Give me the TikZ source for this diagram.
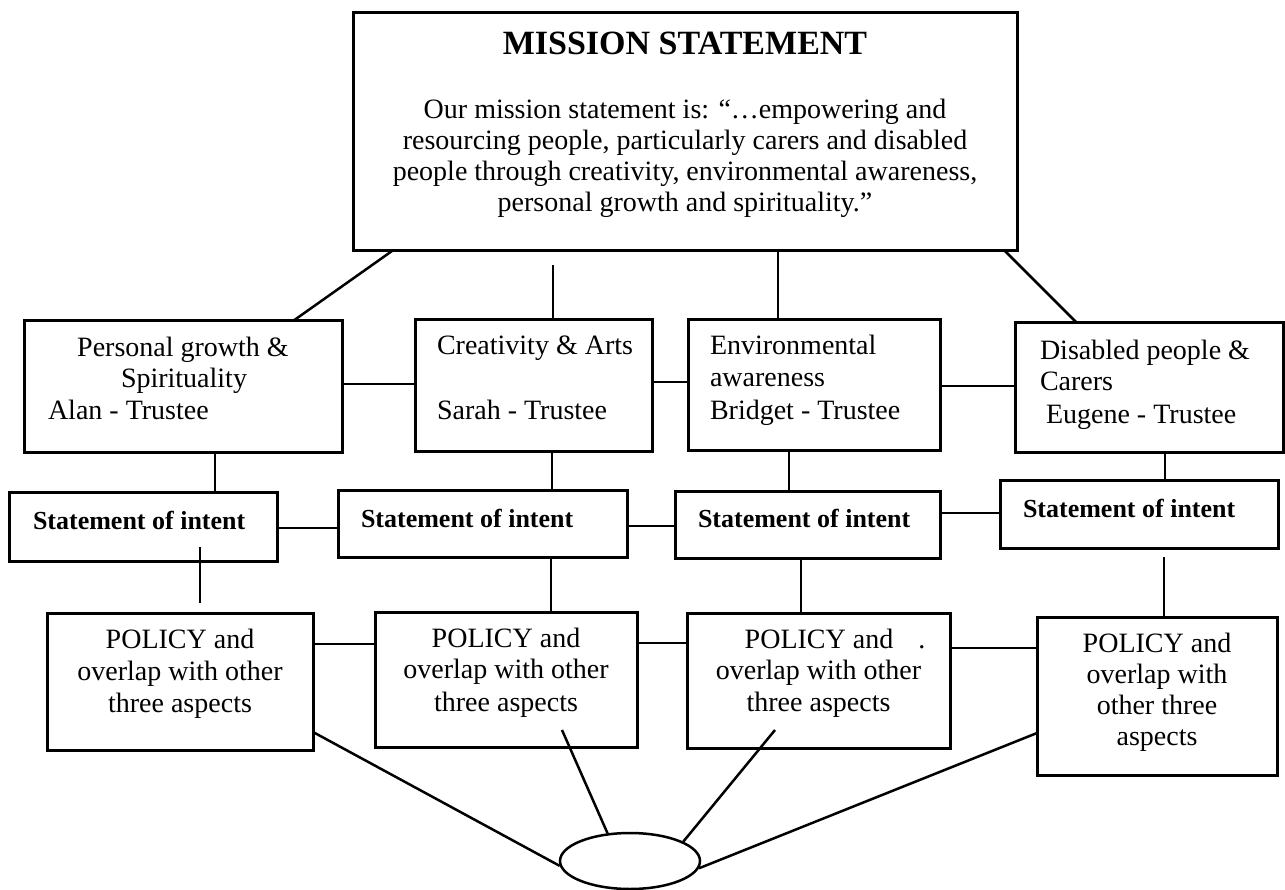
\documentclass[tikz,border=0pt]{standalone}
\usepackage{fontspec}
\setmainfont{Liberation Serif}
\usetikzlibrary{shapes.geometric}
\newcommand\ftbody{\fontsize{28}{31.5}\selectfont}
\newcommand\ftbold{\fontsize{26}{30}\selectfont\bfseries}
\newcommand\fttitle{\fontsize{34}{38}\selectfont\bfseries}
\tikzset{
  box/.style={draw, line width=3pt, rectangle, inner sep=0pt, outer sep=0pt},
  txt/.style={inner sep=0pt, outer sep=0pt, font=\ftbody},
  sttxt/.style={inner sep=0pt, outer sep=0pt, font=\ftbold},
  conn/.style={line width=2.5pt},
}
\begin{document}
\begin{tikzpicture}[x=1pt, y=-1pt]
\fill[white] (0,0) rectangle (1285,890);
\useasboundingbox (0,0) rectangle (1285,890);

% Mission statement
\node[box, minimum width=664pt, minimum height=238pt] (M) at (685,132) {};
\node[inner sep=0pt, font=\fttitle, anchor=base] (mt) at (685,55) {MISSION STATEMENT};
\node[txt, anchor=base] (m1) at (685,119) {Our mission statement is: “…empowering and};
\node[txt, anchor=base] (m2) at (685,150) {resourcing people, particularly carers and disabled};
\node[txt, anchor=base] (m3) at (685,181) {people through creativity, environmental awareness,};
\node[txt, anchor=base] (m4) at (685,212) {personal growth and spirituality.”};

% Row 1
\node[box, minimum width=318pt, minimum height=131pt] (A) at (183,386.5) {};
\node[box, minimum width=237pt, minimum height=131pt] (B) at (533.5,385.5) {};
\node[box, minimum width=252pt, minimum height=130pt] (C) at (814,385) {};
\node[box, minimum width=268pt, minimum height=129pt] (D) at (1149,387.5) {};

\node[txt, anchor=base] (a1) at (183,357) {Personal growth \&};
\node[txt, anchor=base] (a2) at (184,388) {Spirituality};
\node[txt, anchor=base west] (a3) at (48,420) {Alan - Trustee};
\node[txt, anchor=base west] (b1) at (437,355) {Creativity \& Arts};
\node[txt, anchor=base west] (b2) at (437,419) {Sarah - Trustee};
\node[txt, anchor=base west] (c1) at (710,355) {Environmental};
\node[txt, anchor=base west] (c2) at (710,387) {awareness};
\node[txt, anchor=base west] (c3) at (710,419) {Bridget - Trustee};
\node[txt, anchor=base west] (d1) at (1040,360) {Disabled people \&};
\node[txt, anchor=base west] (d2) at (1040,391) {Carers};
\node[txt, anchor=base west] (d3) at (1046,423) {Eugene - Trustee};

% Statements of intent
\node[box, minimum width=268pt, minimum height=69pt] (S1) at (143,526.5) {};
\node[box, minimum width=289pt, minimum height=67pt] (S2) at (482.5,523.5) {};
\node[box, minimum width=265pt, minimum height=67pt] (S3) at (807.5,524.5) {};
\node[box, minimum width=278pt, minimum height=68pt] (S4) at (1139,514) {};
\node[sttxt, anchor=base west] (s1t) at (33,529) {Statement of intent};
\node[sttxt, anchor=base west] (s2t) at (361,527) {Statement of intent};
\node[sttxt, anchor=base west] (s3t) at (698,527) {Statement of intent};
\node[sttxt, anchor=base west] (s4t) at (1023,517) {Statement of intent};

% Policy boxes
\node[box, minimum width=266pt, minimum height=137pt] (P1) at (180,681.5) {};
\node[box, minimum width=262pt, minimum height=135pt] (P2) at (506,679.5) {};
\node[box, minimum width=263pt, minimum height=135pt] (P3) at (818.5,680.5) {};
\node[box, minimum width=240pt, minimum height=158pt] (P4) at (1157,696) {};

\node[txt, anchor=base] (p11) at (180,648) {POLICY and};
\node[txt, anchor=base] (p12) at (180,680) {overlap with other};
\node[txt, anchor=base] (p13) at (180,712) {three aspects};
\node[txt, anchor=base] (p21) at (506,647) {POLICY and};
\node[txt, anchor=base] (p22) at (506,678) {overlap with other};
\node[txt, anchor=base] (p23) at (506,711) {three aspects};
\node[txt, anchor=base] (p31) at (819,648) {POLICY and\rlap{\hspace{0.9em}.}};
\node[txt, anchor=base] (p32) at (818.5,679) {overlap with other};
\node[txt, anchor=base] (p33) at (818.5,711) {three aspects};
\node[txt, anchor=base] (p41) at (1157,652) {POLICY and};
\node[txt, anchor=base] (p42) at (1157,683) {overlap with};
\node[txt, anchor=base] (p43) at (1157,714) {other three};
\node[txt, anchor=base] (p44) at (1157,745) {aspects};

% Ellipse
\node[draw, line width=2.5pt, ellipse, minimum width=140pt, minimum height=56pt, inner sep=0pt] (E) at (630,861) {};

% free ends
\coordinate (mbB) at (553,265);
\coordinate (s1b) at (200,547);
\coordinate (p1t) at (200,603);
\coordinate (s4b) at (1164,557);
\coordinate (p2i) at (562,730);
\coordinate (p3i) at (775,730);

% Connectors mission -> row 1
\draw[conn] (M.south -| 392,0) -- (A.north -| 293,0);
\draw[conn] (mbB) -- (B.north -| 553,0);
\draw[conn] (M.south -| 778,0) -- (C.north -| 778,0);
\draw[conn] (M.south -| 1005,0) -- (D.north -| 1077,0);
% row 1 horizontal
\draw[conn] (A.east |- 0,384) -- (B.west |- 0,384);
\draw[conn] (B.east |- 0,382) -- (C.west |- 0,382);
\draw[conn] (C.east |- 0,386) -- (D.west |- 0,386);
% row 1 -> statements
\draw[conn] (A.south -| 215,0) -- (S1.north -| 215,0);
\draw[conn] (B.south -| 552,0) -- (S2.north -| 552,0);
\draw[conn] (C.south -| 789,0) -- (S3.north -| 789,0);
\draw[conn] (D.south -| 1165,0) -- (S4.north -| 1165,0);
% statements horizontal
\draw[conn] (S1.east |- 0,528) -- (S2.west |- 0,528);
\draw[conn] (S2.east |- 0,526) -- (S3.west |- 0,526);
\draw[conn] (S3.east |- 0,513) -- (S4.west |- 0,513);
% statements -> policies
\draw[conn] (s1b) -- (p1t);
\draw[conn] (S2.south -| 551,0) -- (P2.north -| 551,0);
\draw[conn] (S3.south -| 801,0) -- (P3.north -| 801,0);
\draw[conn] (s4b) -- (P4.north -| 1164,0);
% policies horizontal
\draw[conn] (P1.east |- 0,644) -- (P2.west |- 0,644);
\draw[conn] (P2.east |- 0,643) -- (P3.west |- 0,643);
\draw[conn] (P3.east |- 0,648) -- (P4.west |- 0,648);
% policies -> ellipse
\draw[conn] (P1.east |- 0,732) -- (E.184);
\draw[conn] (p2i) -- (E.129);
\draw[conn] (p3i) -- (E.20);
\draw[conn] (P4.west |- 0,733) -- (E.354);
\end{tikzpicture}
\end{document}
